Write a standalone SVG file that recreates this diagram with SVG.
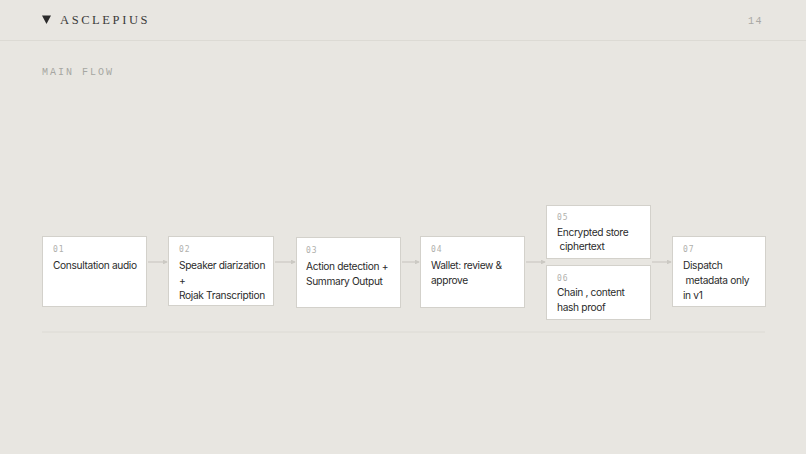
<svg xmlns="http://www.w3.org/2000/svg" width="806" height="454" viewBox="0 0 806 454">
<style>
.box{fill:#ffffff;stroke:#d3d1cb;stroke-width:1}
.num{font-family:"DejaVu Sans Mono","Liberation Mono",monospace;font-size:8px;fill:#b0b0ac;letter-spacing:1px}
.lbl{font-family:Inter,"Liberation Sans",sans-serif;font-size:10.2px;letter-spacing:-0.35px;fill:#2b2b2b}
.conn{stroke:#cbc9c3;stroke-width:1.2;fill:none}
</style>
<defs>
<marker id="ah" viewBox="0 0 6 6" refX="5" refY="3" markerWidth="4" markerHeight="4" orient="auto">
<path d="M0,0 L6,3 L0,6 Z" fill="#cbc9c3"/>
</marker>
</defs>
<rect width="806" height="454" fill="#e8e6e1"/>
<g id="header">
<path d="M42,15.5 L51,15.5 L46.5,24 Z" fill="#2b2b2b"/>
<text x="60" y="24" font-family="'Liberation Serif',serif" font-size="12.5" letter-spacing="2.6" fill="#3a3a3a">ASCLEPIUS</text>
<text x="763" y="24" text-anchor="end" font-family="'Liberation Mono',monospace" font-size="10" letter-spacing="1.5" fill="#a8a8a4">14</text>
<line x1="0" y1="40.5" x2="806" y2="40.5" stroke="#dcdad4" stroke-width="1"/>
<text x="42" y="75" font-family="'Liberation Mono',monospace" font-size="10" letter-spacing="2" fill="#a6a6a2">MAIN FLOW</text>
</g>
<g id="connectors">
<line class="conn" x1="148" y1="262" x2="167" y2="262" marker-end="url(#ah)"/>
<line class="conn" x1="275" y1="262" x2="295" y2="262" marker-end="url(#ah)"/>
<line class="conn" x1="402" y1="262" x2="419" y2="262" marker-end="url(#ah)"/>
<line class="conn" x1="526" y1="262" x2="545" y2="262" marker-end="url(#ah)"/>
<line class="conn" x1="652" y1="262" x2="671" y2="262" marker-end="url(#ah)"/>
</g>
<g id="n1">
<rect class="box" x="42.5" y="236.5" width="104" height="70"/>
<text class="num" x="53" y="252">01</text>
<text class="lbl" x="53" y="269">Consultation audio</text>
</g>
<g id="n2">
<rect class="box" x="168.5" y="236.5" width="105" height="69"/>
<text class="num" x="179" y="252">02</text>
<text class="lbl" x="179" y="269">Speaker diarization</text>
<text class="lbl" x="179" y="284">+</text>
<text class="lbl" x="179" y="299">Rojak Transcription</text>
</g>
<g id="n3">
<rect class="box" x="296.5" y="237.5" width="104" height="70"/>
<text class="num" x="306" y="253">03</text>
<text class="lbl" x="306" y="270">Action detection +</text>
<text class="lbl" x="306" y="285">Summary Output</text>
</g>
<g id="n4">
<rect class="box" x="420.5" y="236.5" width="104" height="71"/>
<text class="num" x="431" y="252">04</text>
<text class="lbl" x="431" y="269">Wallet: review &amp;</text>
<text class="lbl" x="431" y="284">approve</text>
</g>
<g id="n5">
<rect class="box" x="546.5" y="205.5" width="104" height="53"/>
<text class="num" x="557" y="220">05</text>
<text class="lbl" x="557" y="236">Encrypted store</text>
<text class="lbl" x="557" y="250" xml:space="preserve"> ciphertext</text>
</g>
<g id="n6">
<rect class="box" x="546.5" y="265.5" width="104" height="54"/>
<text class="num" x="557" y="281">06</text>
<text class="lbl" x="557" y="296">Chain , content</text>
<text class="lbl" x="557" y="311">hash proof</text>
</g>
<g id="n7">
<rect class="box" x="672.5" y="236.5" width="93" height="70"/>
<text class="num" x="683" y="252">07</text>
<text class="lbl" x="683" y="269">Dispatch</text>
<text class="lbl" x="683" y="284" xml:space="preserve"> metadata only</text>
<text class="lbl" x="683" y="299">in v1</text>
</g>
<line x1="42" y1="332" x2="765" y2="332" stroke="#dcdad4" stroke-width="1"/>
</svg>
